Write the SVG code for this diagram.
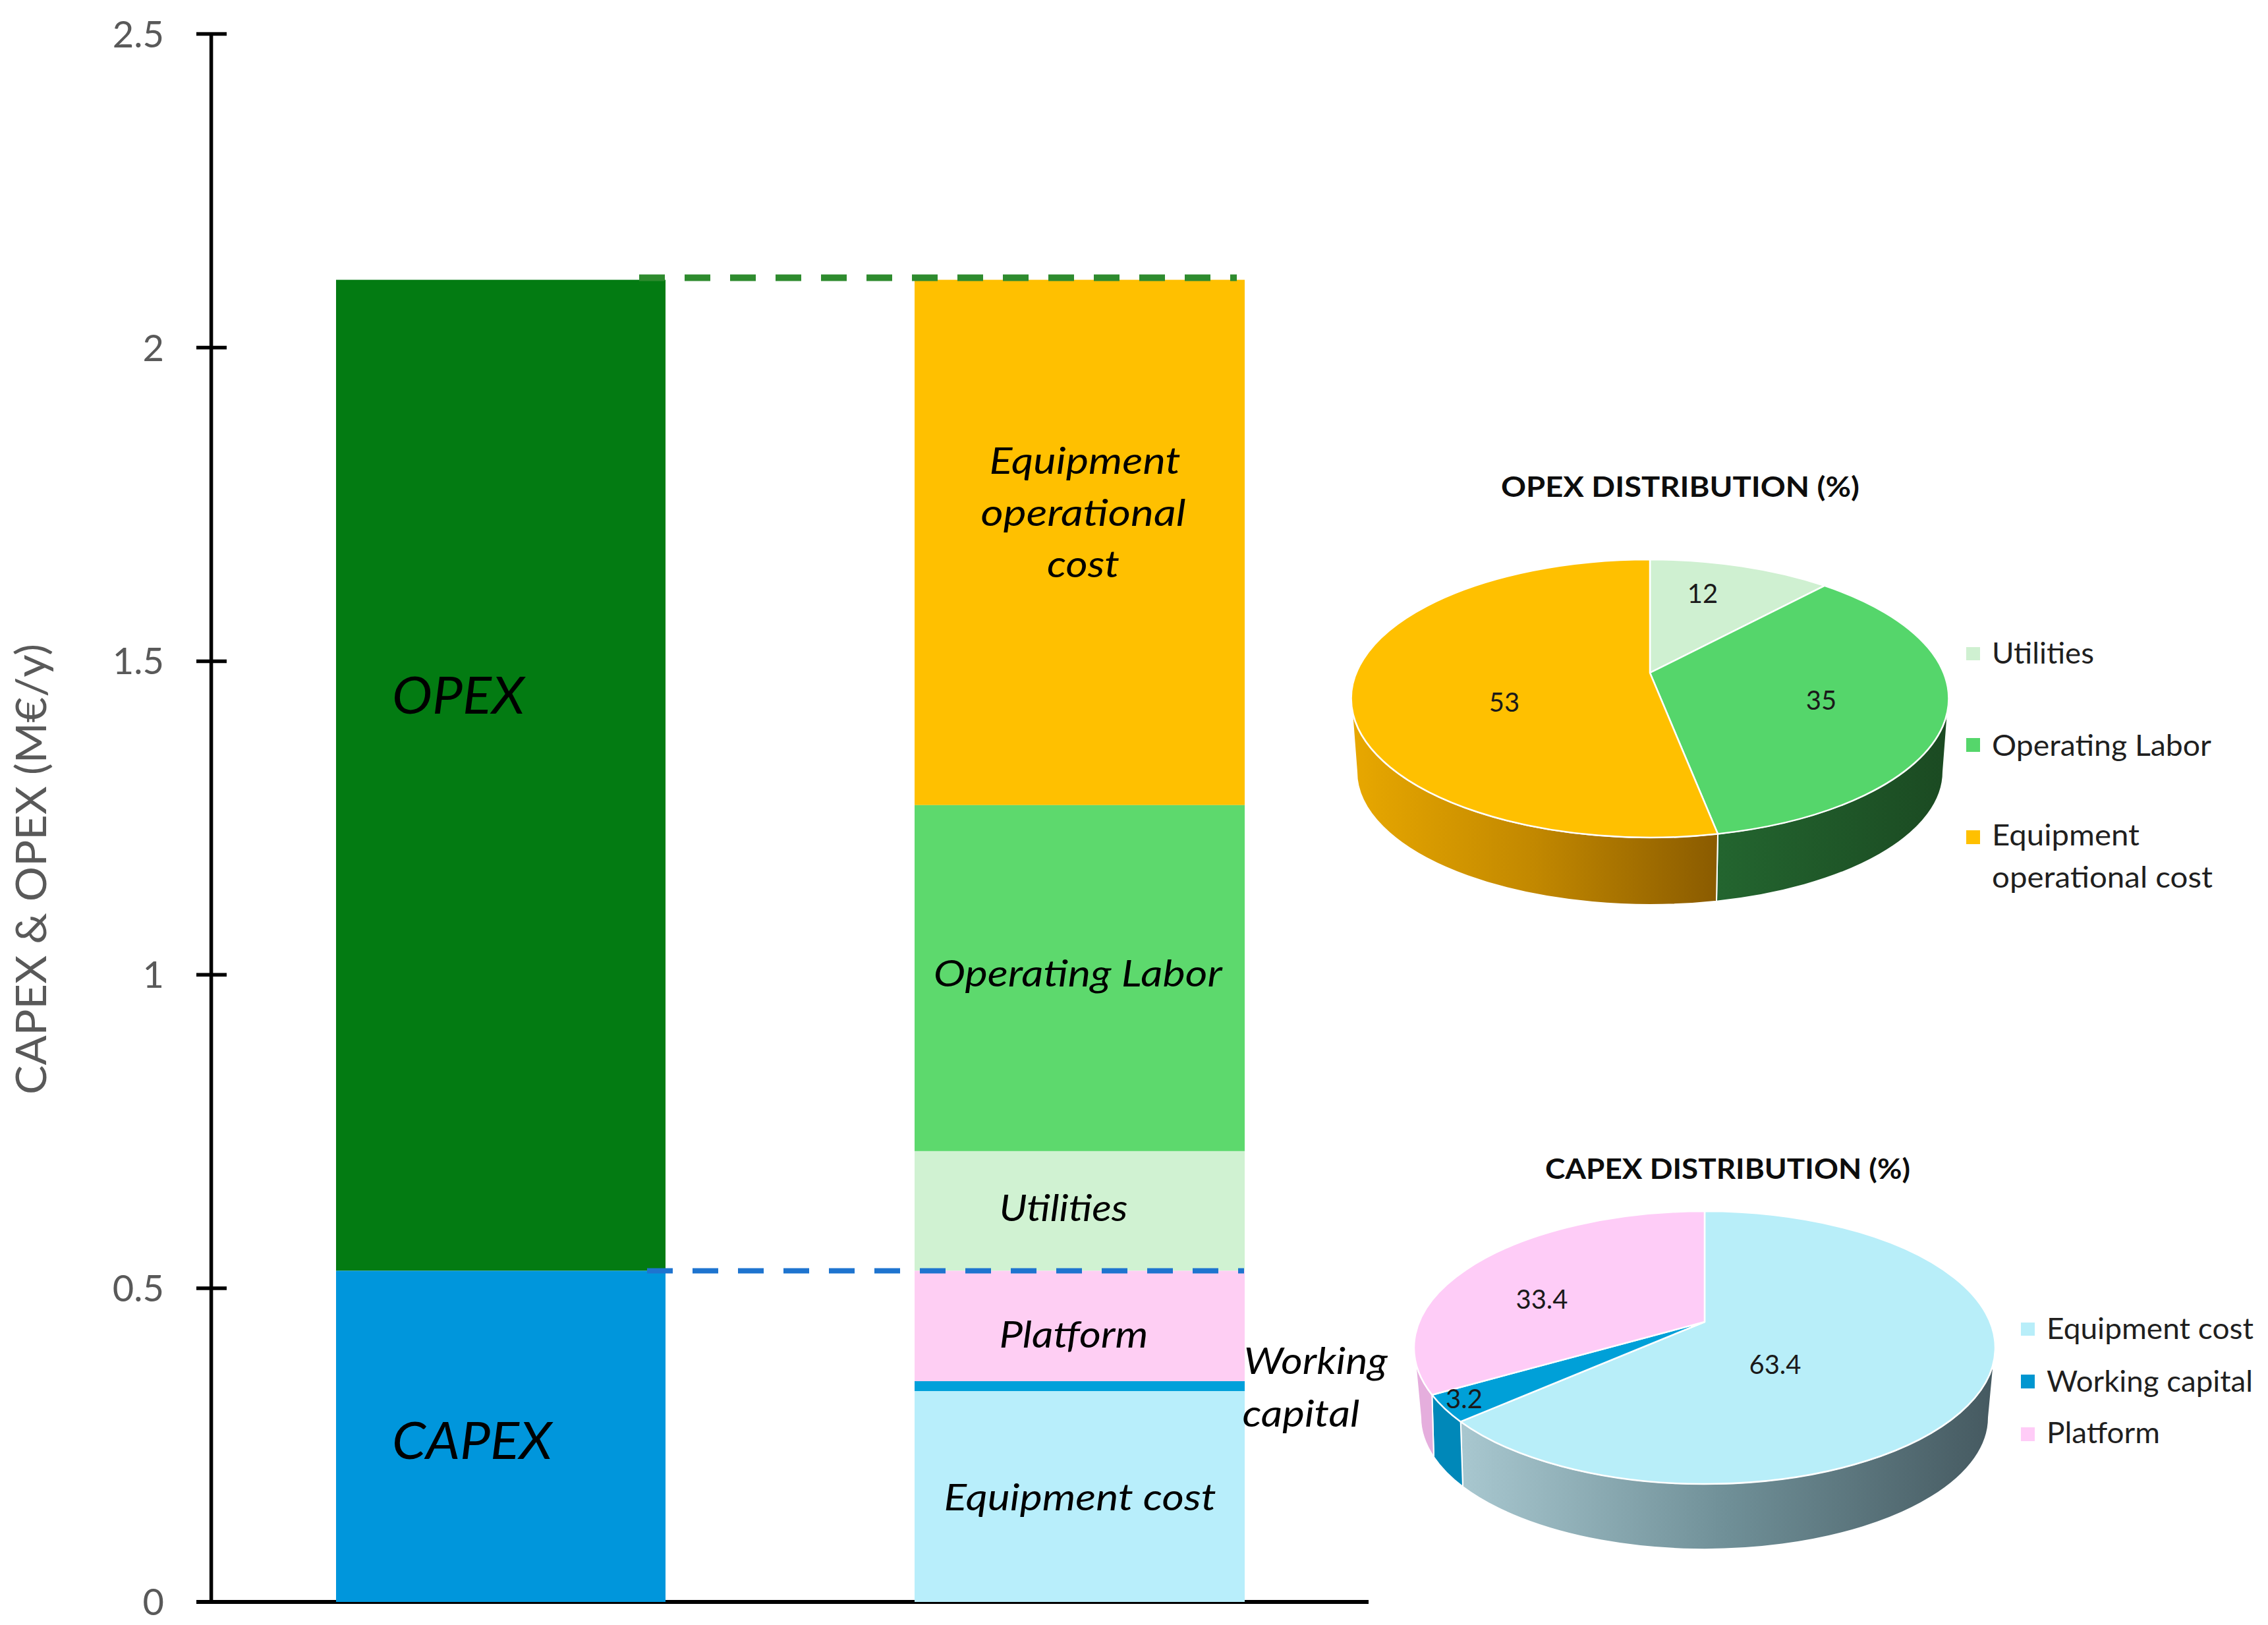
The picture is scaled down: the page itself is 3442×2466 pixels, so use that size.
<svg xmlns="http://www.w3.org/2000/svg" width="3442" height="2466" viewBox="0 0 3442 2466">
<defs>
<style>
.ax{stroke:#000;stroke-width:5.5;fill:none}
.tk{font-family:Lato,"Open Sans",sans-serif;font-size:56px;fill:#595959;text-anchor:end}
.bl{font-family:Lato,"Open Sans",sans-serif;font-style:italic;font-size:56px;fill:#000}
.big{font-family:Lato,"Open Sans",sans-serif;font-style:italic;font-size:77px;fill:#000}
.ttl{font-family:Lato,"Open Sans",sans-serif;font-weight:bold;font-size:42px;fill:#0d0d0d;text-anchor:middle}
.lg{font-family:Lato,"Open Sans",sans-serif;font-size:44px;fill:#1f1f1f}
.pl{font-family:Lato,"Open Sans",sans-serif;font-size:40px;fill:#1a1a1a;text-anchor:middle}
.sl{stroke:#fff;stroke-width:2.5;stroke-linejoin:round}
.sd{stroke:#fff;stroke-width:2;stroke-linejoin:round}
.dash{fill:none;stroke-dasharray:39 30}
</style>
<linearGradient id="gYel" gradientUnits="userSpaceOnUse" x1="2050" y1="0" x2="2607" y2="0">
<stop offset="0" stop-color="#E8A800"/><stop offset="0.5" stop-color="#C28800"/><stop offset="1" stop-color="#8A5B00"/>
</linearGradient>
<linearGradient id="gGrn" gradientUnits="userSpaceOnUse" x1="2607" y1="0" x2="2957" y2="0">
<stop offset="0" stop-color="#23652F"/><stop offset="1" stop-color="#1B4A22"/>
</linearGradient>
<linearGradient id="gCyan" gradientUnits="userSpaceOnUse" x1="2220" y1="0" x2="3028" y2="0">
<stop offset="0" stop-color="#A8C7CF"/><stop offset="0.5" stop-color="#6F8F97"/><stop offset="1" stop-color="#455960"/>
</linearGradient>
</defs>
<rect width="3442" height="2466" fill="#fff"/>

<g id="axes">
<line class="ax" x1="320.6" y1="51.5" x2="320.6" y2="2431"/>
<line class="ax" x1="298" y1="2431" x2="2077" y2="2431" style="stroke-width:6"/>
<g class="ax">
<line x1="298" y1="51.5" x2="344" y2="51.5"/>
<line x1="298" y1="527.5" x2="344" y2="527.5"/>
<line x1="298" y1="1003.4" x2="344" y2="1003.4"/>
<line x1="298" y1="1479.2" x2="344" y2="1479.2"/>
<line x1="298" y1="1955" x2="344" y2="1955"/>
</g>
<text class="tk" x="249" y="71.5">2.5</text>
<text class="tk" x="249" y="547.5">2</text>
<text class="tk" x="249" y="1023.4">1.5</text>
<text class="tk" x="249" y="1499.2">1</text>
<text class="tk" x="249" y="1975">0.5</text>
<text class="tk" x="249" y="2451">0</text>
<text transform="translate(70,1319) rotate(-90)" style="font-family:Lato,'Open Sans',sans-serif;font-size:64px;fill:#595959" text-anchor="middle" textLength="684" lengthAdjust="spacingAndGlyphs">CAPEX &amp; OPEX (M€/y)</text>
</g>

<g id="bar-total">
<rect x="510" y="424.6" width="500" height="1503.9" fill="#037B12"/>
<rect x="510" y="1928.5" width="500" height="502.5" fill="#0096DC"/>
<text class="big" x="595" y="1083" textLength="201" lengthAdjust="spacingAndGlyphs">OPEX</text>
<text class="big" x="595" y="2214" textLength="243" lengthAdjust="spacingAndGlyphs">CAPEX</text>
</g>

<g id="bar-breakdown">
<rect x="1388" y="424.6" width="501" height="797.2" fill="#FFC000"/>
<rect x="1388" y="1221.8" width="501" height="525.1" fill="#5DD96D"/>
<rect x="1388" y="1746.9" width="501" height="181.6" fill="#D0F2D2"/>
<rect x="1388" y="1928.5" width="501" height="167.5" fill="#FECEF3"/>
<rect x="1388" y="2096" width="501" height="15" fill="#00A0DA"/>
<rect x="1388" y="2111" width="501" height="320" fill="#B8EEFB"/>
<text class="bl" x="1646.5" y="718.6" text-anchor="middle" textLength="290" lengthAdjust="spacingAndGlyphs">Equipment</text>
<text class="bl" x="1644" y="798" text-anchor="middle" textLength="311" lengthAdjust="spacingAndGlyphs">operational</text>
<text class="bl" x="1644" y="876" text-anchor="middle" textLength="110" lengthAdjust="spacingAndGlyphs">cost</text>
<text class="bl" x="1416.7" y="1496.7" textLength="438" lengthAdjust="spacingAndGlyphs">Operating Labor</text>
<text class="bl" x="1614" y="1852.6" text-anchor="middle" textLength="195" lengthAdjust="spacingAndGlyphs">Utilities</text>
<text class="bl" x="1629.5" y="2045" text-anchor="middle" textLength="226" lengthAdjust="spacingAndGlyphs">Platform</text>
<text class="bl" x="1639" y="2292" text-anchor="middle" textLength="413" lengthAdjust="spacingAndGlyphs">Equipment cost</text>
<text class="bl" x="1887.7" y="2084.5" textLength="218" lengthAdjust="spacingAndGlyphs">Working</text>
<text class="bl" x="1885.4" y="2165" textLength="178" lengthAdjust="spacingAndGlyphs">capital</text>
</g>

<g id="connectors">
<path class="dash" d="M970 421.5H1877" stroke="#2E8B2E" stroke-width="10"/>
<path class="dash" d="M982 1928.5H1888" stroke="#1E74CF" stroke-width="8"/>
</g>

<g id="opex-pie">
<text class="ttl" x="2550" y="753.5" textLength="544" lengthAdjust="spacingAndGlyphs">OPEX DISTRIBUTION (%)</text>
<path class="sd" fill="url(#gGrn)" d="M2957.5 1060A453.5 211 0 0 1 2607 1265.5L2605 1367.7A445 202 0 0 0 2949 1171Z"/>
<path class="sd" fill="url(#gYel)" d="M2607 1265.5A453.5 211 0 0 1 2050.5 1060L2059 1171A445 202 0 0 0 2605 1367.7Z"/>
<path class="sl" fill="#CFF0D1" d="M2504 1021L2504 849A453.5 211 0 0 1 2769 888.8Z"/>
<path class="sl" fill="#55D66B" d="M2504 1021L2769 888.8A453.5 211 0 0 1 2607 1265.5Z"/>
<path class="sl" fill="#FFC000" d="M2504 1021L2607 1265.5A453.5 211 0 1 1 2504 849Z"/>
<text class="pl" x="2584" y="915">12</text>
<text class="pl" x="2764" y="1077">35</text>
<text class="pl" x="2283" y="1079.5">53</text>
</g>

<g id="opex-legend">
<rect x="2984" y="982" width="21" height="20" fill="#CFF0D1"/>
<rect x="2984" y="1120" width="21" height="21" fill="#55D66B"/>
<rect x="2984" y="1260" width="21" height="21" fill="#FFC000"/>
<text class="lg" x="3023" y="1007" textLength="155" lengthAdjust="spacingAndGlyphs">Utilities</text>
<text class="lg" x="3023" y="1146.7" textLength="333" lengthAdjust="spacingAndGlyphs">Operating Labor</text>
<text class="lg" x="3023" y="1283" textLength="224" lengthAdjust="spacingAndGlyphs">Equipment</text>
<text class="lg" x="3023" y="1346.7" textLength="335" lengthAdjust="spacingAndGlyphs">operational cost</text>
</g>

<g id="capex-pie">
<text class="ttl" x="2622" y="1789" textLength="554" lengthAdjust="spacingAndGlyphs">CAPEX DISTRIBUTION (%)</text>
<path class="sd" fill="url(#gCyan)" d="M3028 2045A441 207 0 0 1 2216.7 2157.4L2220 2256A431 200 0 0 0 3018 2151Z"/>
<path class="sd" fill="#0088B9" d="M2216.7 2157.4A441 207 0 0 1 2173.3 2116.7L2176 2211A431 200 0 0 0 2220 2256Z"/>
<path class="sd" fill="#E5AEDD" d="M2173.3 2116.7A441 207 0 0 1 2146 2045L2156 2151A431 200 0 0 0 2176 2211Z"/>
<path class="sl" fill="#B8EEF9" d="M2587 2006L2587 1838A441 207 0 1 1 2216.7 2157.4Z"/>
<path class="sl" fill="#00A0D8" d="M2587 2006L2216.7 2157.4A441 207 0 0 1 2173.3 2116.7Z"/>
<path class="sl" fill="#FECCF7" d="M2587 2006L2173.3 2116.7A441 207 0 0 1 2587 1838Z"/>
<text class="pl" x="2694" y="2085">63.4</text>
<text class="pl" x="2340" y="1986">33.4</text>
<text class="pl" x="2222" y="2137">3.2</text>
</g>

<g id="capex-legend">
<rect x="3067" y="2007" width="21" height="20" fill="#B8EEF9"/>
<rect x="3067" y="2086" width="21" height="21" fill="#0096D0"/>
<rect x="3067" y="2166" width="21" height="21" fill="#FFCCF7"/>
<text class="lg" x="3106" y="2031.7" textLength="314" lengthAdjust="spacingAndGlyphs">Equipment cost</text>
<text class="lg" x="3106" y="2111.7" textLength="313" lengthAdjust="spacingAndGlyphs">Working capital</text>
<text class="lg" x="3106" y="2190" textLength="172" lengthAdjust="spacingAndGlyphs">Platform</text>
</g>
</svg>
